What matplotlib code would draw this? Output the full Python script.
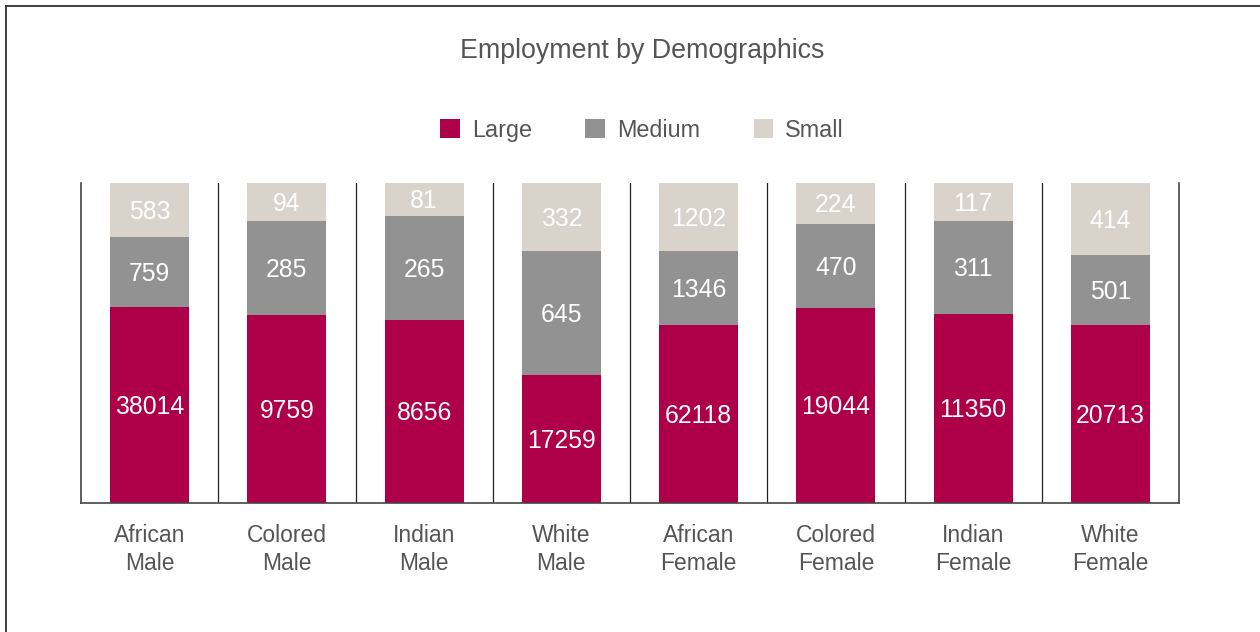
import matplotlib.pyplot as plt
from matplotlib.lines import Line2D

# categories and displayed counts
groups = ['African\nMale', 'Colored\nMale', 'Indian\nMale', 'White\nMale',
          'African\nFemale', 'Colored\nFemale', 'Indian\nFemale', 'White\nFemale']
large = [38014, 9759, 8656, 17259, 62118, 19044, 11350, 20713]
medium = [759, 285, 265, 645, 1346, 470, 311, 501]
small = [583, 94, 81, 332, 1202, 224, 117, 414]

# segment heights as shown in the picture (% of the bar)
large_pct = [61.3, 58.8, 57.2, 40.0, 55.6, 60.9, 59.1, 55.6]
medium_pct = [21.9, 29.4, 32.5, 38.8, 23.1, 26.3, 29.0, 21.9]
small_pct = [16.8, 11.8, 10.3, 21.2, 21.3, 12.8, 11.9, 22.5]

c_large = '#ad0048'
c_medium = '#929292'
c_small = '#d9d3cc'
text_col = '#555555'

plt.rcParams['font.family'] = ['Liberation Sans', 'DejaVu Sans']

fig = plt.figure(figsize=(12.6, 6.32), dpi=100)
ax = fig.add_axes([81 / 1260, 1 - 503 / 632, 1098 / 1260, 320 / 632])

x = list(range(len(groups)))
w = 0.577
b1 = ax.bar(x, large_pct, w, color=c_large, label='Large')
bottom2 = large_pct
b2 = ax.bar(x, medium_pct, w, bottom=bottom2, color=c_medium, label='Medium')
bottom3 = [a + b for a, b in zip(large_pct, medium_pct)]
b3 = ax.bar(x, small_pct, w, bottom=bottom3, color=c_small, label='Small')

for bars, vals in [(b1, large), (b2, medium), (b3, small)]:
    for rect, v in zip(bars, vals):
        ax.text(rect.get_x() + rect.get_width() / 2, rect.get_y() + rect.get_height() / 2 - 0.6,
                str(v), ha='center', va='center', color='white', fontsize=17.8)

for i in range(len(groups) - 1):
    ax.axvline(i + 0.5, color='#222222', linewidth=0.9)

ax.set_xlim(-0.5, len(groups) - 0.5)
ax.set_ylim(0, 100)
ax.set_xticks(x)
ax.set_xticklabels(groups, fontsize=16.5, color=text_col, linespacing=1.3)
ax.tick_params(axis='x', length=0, pad=15)
ax.set_yticks([])
ax.spines['top'].set_visible(False)
for s in ['left', 'right', 'bottom']:
    ax.spines[s].set_color('#444444')
    ax.spines[s].set_linewidth(1.2)

fig.text(642 / 1260, 1 - 51 / 632, 'Employment by Demographics', ha='center', va='center',
         fontsize=19.3, color=text_col)

fig.legend(handles=[b1, b2, b3], loc='center', bbox_to_anchor=(642 / 1260, 1 - 130 / 632),
           ncol=3, frameon=False, fontsize=16.8, handlelength=0.85, handleheight=0.85,
           handletextpad=0.5, columnspacing=2.3, labelcolor=text_col)

# outer frame
fig.add_artist(Line2D([6 / 1260, 1], [1 - 6 / 632, 1 - 6 / 632], transform=fig.transFigure,
                      color='#333333', linewidth=1.3))
fig.add_artist(Line2D([6 / 1260, 6 / 1260], [0, 1 - 6 / 632], transform=fig.transFigure,
                      color='#333333', linewidth=1.3))

plt.savefig('out.png', dpi=100)
